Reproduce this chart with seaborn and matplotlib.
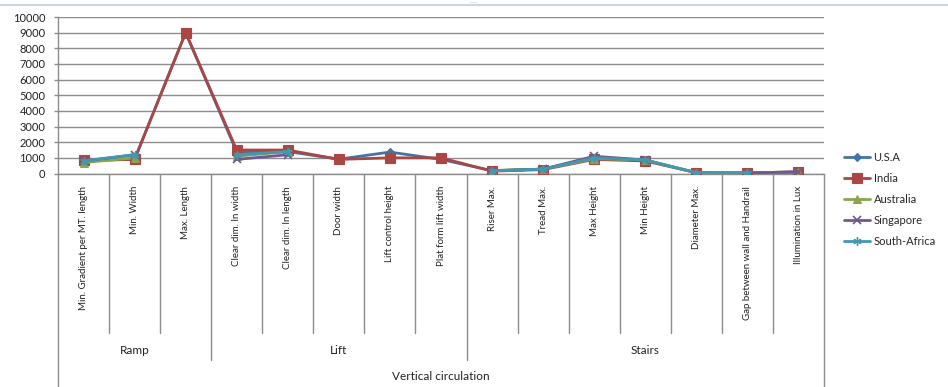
import numpy as np
import pandas as pd
import matplotlib
matplotlib.use("Agg")
import matplotlib.pyplot as plt
import seaborn as sns
from matplotlib import transforms
from matplotlib.lines import Line2D

categories = [
    "Min. Gradient per MT. length", "Min. Width", "Max. Length",
    "Clear dim. In width", "Clear dim. In length", "Door width",
    "Lift control height", "Plat form lift width",
    "Riser Max.", "Tread Max.", "Max Height", "Min Height",
    "Diameter Max.", "Gap between wall and Handrail", "Illumination in Lux",
]
groups = ["Ramp", "Lift", "Stairs"]
group_sizes = [3, 5, 7]
outer_label = "Vertical circulation"

nan = np.nan
usa = [833, 915, 9000, 1370, 1400, 915, 1370, 900, 180, 280, 1000, 865, 50, 40, 100]
india = [833, 900, 9000, 1500, 1500, 900, 1000, 1000, 150, 250, 900, 800, 50, 40, 100]
australia = [700, 1000, nan, 1100, 1400, nan, nan, nan, 190, 280, 950, 865, 50, 40, 100]
singapore = [800, 1200, nan, 900, 1200, nan, nan, nan, 175, 280, 1100, 865, nan, 40, 100]
south_africa = [800, 1200, nan, 1200, 1400, nan, nan, nan, 170, 280, 1000, 865, 50, 40, nan]

series_names = ["U.S.A", "India", "Australia", "Singapore", "South-Africa"]
series_values = [usa, india, australia, singapore, south_africa]
colors = ["#4572A7", "#AA4643", "#89A54E", "#71588F", "#4198AF"]
markers = ["D", "s", "^", "x", (6, 2, 0)]
msizes = [4.5, 6.5, 6, 6, 6]
mews = [0.8, 0.8, 0.8, 1.2, 1.0]

# long-form table with segment ids so gaps (missing values) stay broken
rows = []
for name, vals in zip(series_names, series_values):
    seg, gap = 0, True
    for i, v in enumerate(vals):
        if np.isnan(v):
            gap = True
            continue
        if gap:
            seg += 1
            gap = False
        rows.append(dict(country=name, pos=i, value=v, seg=seg))
df = pd.DataFrame(rows)

sns.set_theme(style="white")
plt.rcParams["font.family"] = ["Lato", "DejaVu Sans"]

W, H = 948, 387
fig = plt.figure(figsize=(W / 100, H / 100), dpi=100)
ax = fig.add_axes([58 / W, 1 - 173.5 / H, (824 - 58) / W, (173.5 - 17) / H])

for k, (name, c, m, ms, mw) in enumerate(zip(series_names, colors, markers, msizes, mews)):
    sub = df[df.country == name]
    sns.lineplot(data=sub, x="pos", y="value", units="seg", estimator=None,
                 color=c, marker=m, markersize=ms, markeredgecolor=c,
                 markerfacecolor=c, markeredgewidth=mw,
                 linewidth=2, ax=ax, legend=False, zorder=3 + k)

grid_c = "#8c8c8c"
txt_c = "#222222"
ax.set_xlim(-0.5, len(categories) - 0.5)
ax.set_ylim(0, 10000)
ax.set_yticks(np.arange(0, 10001, 1000))
ax.set_yticklabels([str(v) for v in range(0, 10001, 1000)], fontsize=8, color=txt_c)
ax.yaxis.grid(True, color=grid_c, linewidth=1)
ax.set_axisbelow(True)
ax.set_xticks(range(len(categories)))
ax.set_xticklabels(categories, rotation=90, va="top", ha="center", fontsize=7, color=txt_c)
ax.tick_params(axis="x", length=0, pad=9)
ax.tick_params(axis="y", length=3, width=1, color=grid_c, pad=6, left=True)
ax.set_xlabel("")
ax.set_ylabel("")
for s in ["top", "right"]:
    ax.spines[s].set_visible(False)
for s in ["left", "bottom"]:
    ax.spines[s].set_color(grid_c)
    ax.spines[s].set_linewidth(1)

# multi-level category axis
trans = transforms.blended_transform_factory(ax.transData, fig.transFigure)
fy = lambda px: 1 - px / H
bounds = np.cumsum([0] + group_sizes)
n = len(categories)
for b in range(n + 1):
    x = b - 0.5
    if b in (0, n):
        bottom = 387
    elif b in bounds:
        bottom = 360
    else:
        bottom = 333
    fig.add_artist(Line2D([x, x], [fy(173.5), fy(bottom)], transform=trans,
                          color=grid_c, linewidth=1))
for g, a, bnd in zip(groups, bounds[:-1], bounds[1:]):
    fig.text((a + bnd - 1) / 2, fy(350), g, transform=trans, ha="center", va="center",
             fontsize=8.5, color=txt_c)
fig.text((n - 1) / 2, fy(377), outer_label, transform=trans, ha="center", va="center",
         fontsize=8.5, color=txt_c)

# top border line of chart area
fig.add_artist(Line2D([0, 1], [fy(5), fy(5)], transform=fig.transFigure,
                      color="#c9d6dc", linewidth=1.5))
fig.text(474 / W, fy(2.5), "----", ha="center", va="center", fontsize=4, color="#999999")

handles = [Line2D([], [], color=c, marker=m, markersize=ms, markeredgecolor=c,
                  markeredgewidth=mw, linewidth=2)
           for c, m, ms, mw in zip(colors, markers, msizes, mews)]
fig.legend(handles, series_names, loc="upper left",
           bbox_to_anchor=(838 / W, fy(146)), frameon=False, fontsize=8,
           handlelength=2.4, handletextpad=0.3, labelspacing=0.9, borderpad=0)

fig.savefig("out.png", dpi=100)
